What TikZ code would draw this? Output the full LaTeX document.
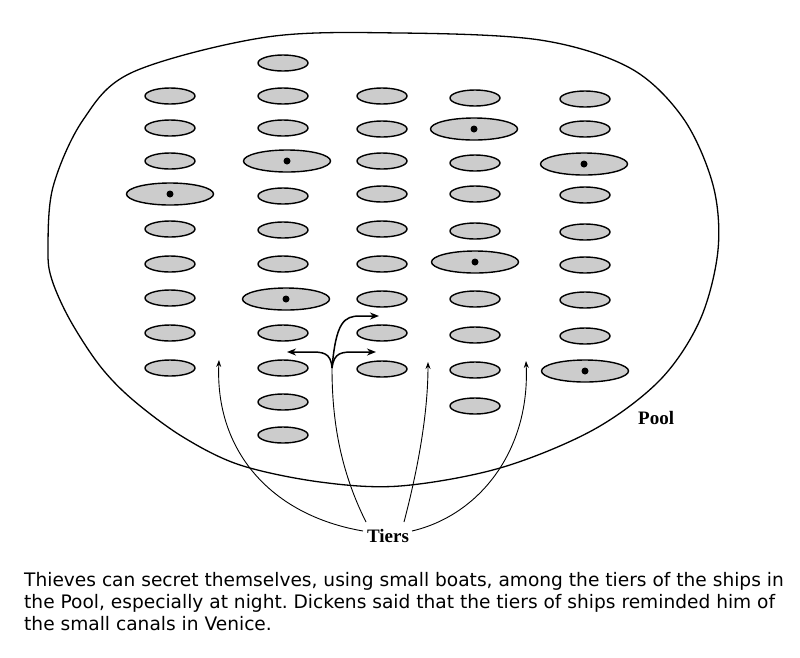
\documentclass[tikz,border=0pt]{standalone}
\usepackage{fontspec}
\setmainfont{Liberation Serif}
\newfontfamily\capfont{DejaVu Sans}
\usetikzlibrary{shapes.geometric,arrows.meta}
\definecolor{shipgray}{HTML}{CCCCCC}
\frenchspacing
\tikzset{
  ship/.style={ellipse,draw=black,fill=shipgray,line width=1.4pt,minimum width=50pt,minimum height=16pt,inner sep=0pt},
  bigship/.style={ship,minimum width=87pt,minimum height=22pt},
  dotmark/.style={circle,fill=black,inner sep=0pt,minimum size=7pt},
  tierarrow/.style={line width=0.9pt,-{Stealth[length=7pt,width=5pt]}},
  brancharrow/.style={line width=1.5pt,-{Stealth[length=9pt,width=7pt]}},
  lbl/.style={font=\fontsize{19}{22}\selectfont\bfseries,inner sep=0pt},
  captext/.style={font=\capfont\fontsize{18.6}{22}\selectfont,inner sep=0pt,anchor=base west}
}
\begin{document}
\begin{tikzpicture}[x=1pt,y=-1pt]
\useasboundingbox (0,0) rectangle (800,657);
% pool outline
\draw[line width=1.3pt] plot[smooth cycle,tension=0.55] coordinates {
(400,33) (540,40) (630,68) (683,118) (713,185) (718,250) (700,320)
(660,380) (593,430) (500,468) (400,486) (320,482) (240,465) (183,437) (133,400)
(100,366) (70,320) (52,280) (48,250) (53,187) (83,120) (133,72) (267,37)};
% column 1
\foreach \y [count=\i] in {96,128,161,229,264,298,333,368}
  \node[ship] (a\i) at (170,\y) {};
\node[bigship] (aB) at (170,194) {};
\node[dotmark] (aBd) at (aB) {};
% column 2
\foreach \y [count=\i] in {63,96,128,196,230,264,333,368,402,435}
  \node[ship] (b\i) at (283,\y) {};
\node[bigship] (bB1) at (287,161) {};
\node[dotmark] (bB1d) at (bB1) {};
\node[bigship] (bB2) at (286,299) {};
\node[dotmark] (bB2d) at (bB2) {};
% column 3
\foreach \y [count=\i] in {96,129,161,194,229,264,299,333,369}
  \node[ship] (c\i) at (382,\y) {};
% column 4
\foreach \y [count=\i] in {98,163,194,231,299,335,370,406}
  \node[ship] (d\i) at (475,\y) {};
\node[bigship] (dB1) at (474,129) {};
\node[dotmark] (dB1d) at (dB1) {};
\node[bigship] (dB2) at (475,262) {};
\node[dotmark] (dB2d) at (dB2) {};
% column 5
\foreach \y [count=\i] in {99,129,195,232,265,300,336}
  \node[ship] (e\i) at (585,\y) {};
\node[bigship] (eB1) at (584,164) {};
\node[dotmark] (eB1d) at (eB1) {};
\node[bigship] (eB2) at (585,371) {};
\node[dotmark] (eB2d) at (eB2) {};
% labels
\node[lbl,anchor=base west] (pool) at (638,424) {Pool};
\node[lbl,anchor=base] (tiers) at (388,542) {Tiers};
% arrow ends
\coordinate (t1) at (219,360);
\coordinate (t3) at (428,362);
\coordinate (t4) at (526,361);
\coordinate (br) at (332,368);
\coordinate (bl) at (287,352);
\coordinate (brr) at (376,352);
\coordinate (bu) at (379,316);
\coordinate (s1) at (363,531);
\coordinate (s2) at (366,522);
\coordinate (s3) at (404,522);
\coordinate (s4) at (412,531);
\draw[tierarrow] (s1) .. controls (270,515) and (215,450) .. (t1);
\draw[line width=0.9pt] (s2) .. controls (340,470) and (332,420) .. (br);
\draw[tierarrow] (s3) .. controls (415,480) and (428,420) .. (t3);
\draw[tierarrow] (s4) .. controls (480,515) and (530,450) .. (t4);
\draw[brancharrow] (br) .. controls (331,352) and (322,352) .. (310,352) -- (bl);
\draw[brancharrow] (br) .. controls (334,352) and (342,352) .. (355,352) -- (brr);
\draw[brancharrow] (br) .. controls (336,322) and (344,316) .. (360,316) -- (bu);
% caption
\node[captext] (cap1) at (24,586) {Thieves can secret themselves, using small boats, among the tiers of the ships in};
\node[captext] (cap2) at (24,608) {the Pool, especially at night. Dickens said that the tiers of ships reminded him of};
\node[captext] (cap3) at (24,630) {the small canals in Venice.};
\end{tikzpicture}
\end{document}
